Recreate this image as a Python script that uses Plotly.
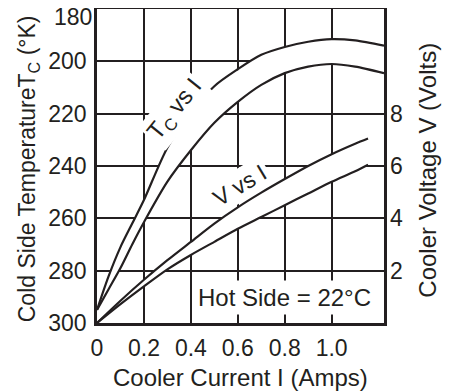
import plotly.graph_objects as go

# ---- data ----
current_tc = [0, 0.05, 0.1, 0.15, 0.2, 0.3, 0.4, 0.5, 0.6, 0.7, 0.8, 0.9, 1.0, 1.1, 1.223]
tc_upper = [295, 282, 271, 262, 253, 233, 220, 209.5, 203, 197.5, 194.5, 192.5, 191.5, 192, 194]
tc_lower = [295, 287, 279, 270, 261.5, 246, 234, 223.5, 215.5, 209, 204.5, 202, 201, 202, 204.5]

current_v = [0, 0.1, 0.2, 0.3, 0.4, 0.5, 0.6, 0.7, 0.8, 0.9, 1.0, 1.1, 1.155]
v_upper = [0, 0.85, 1.65, 2.4, 3.1, 3.8, 4.42, 4.98, 5.5, 6.0, 6.45, 6.85, 7.05]
v_lower = [0, 0.72, 1.4, 2.05, 2.6, 3.1, 3.6, 4.05, 4.5, 4.95, 5.4, 5.8, 6.05]

x_tickvals = [0, 0.2, 0.4, 0.6, 0.8, 1.0]
x_ticktext = ["0", "0.2", "0.4", "0.6", "0.8", "1.0"]
t_tickvals = [180, 200, 220, 240, 260, 280, 300]
v_tickvals = [2, 4, 6, 8]

INK = "#231f20"
FONT = "Liberation Sans, Arial, sans-serif"

fig = go.Figure()

line = dict(color=INK, width=2.2, shape="spline", smoothing=0.8)

fig.add_trace(go.Scatter(x=current_tc, y=tc_upper, mode="lines", line=line,
                         yaxis="y", showlegend=False, hoverinfo="skip"))
fig.add_trace(go.Scatter(x=current_tc, y=tc_lower, mode="lines", line=line,
                         fill="tonexty", fillcolor="white",
                         yaxis="y", showlegend=False, hoverinfo="skip"))
fig.add_trace(go.Scatter(x=current_v, y=v_upper, mode="lines", line=line,
                         yaxis="y2", showlegend=False, hoverinfo="skip"))
fig.add_trace(go.Scatter(x=current_v, y=v_lower, mode="lines", line=line,
                         fill="tonexty", fillcolor="white",
                         yaxis="y2", showlegend=False, hoverinfo="skip"))

# The page body keeps its default 8px margin, so the figure is 8px smaller
# and its left/top margins are reduced by 8px to land on the reference.
fig.update_layout(
    width=443, height=383,
    margin=dict(l=89, r=67, t=1, b=68, pad=0, autoexpand=False),
    paper_bgcolor="white", plot_bgcolor="white",
    font=dict(family=FONT, size=23, color=INK),
    xaxis=dict(
        range=[0, 1.223], tickvals=x_tickvals, ticktext=x_ticktext,
        showgrid=True, gridcolor=INK, gridwidth=2,
        showline=True, linecolor=INK, linewidth=2.5, mirror=True,
        zeroline=False, ticks="", ticklabelstandoff=3, automargin=False,
    ),
    yaxis=dict(
        range=[300.02, 179.98], tickvals=t_tickvals[1:],
        showgrid=True, gridcolor=INK, gridwidth=2,
        showline=True, linecolor=INK, linewidth=2.5, mirror=True,
        zeroline=False, ticks="", ticklabelstandoff=3, automargin=False,
    ),
    yaxis2=dict(
        range=[-0.002, 12.002], tickvals=v_tickvals, overlaying="y", side="right",
        showgrid=False, showline=False, zeroline=False, ticks="",
        ticklabelstandoff=5, automargin=False,
    ),
    annotations=[
        # top tick label of the temperature axis (the axis would hide it at the edge)
        dict(x=0, y=t_tickvals[0], xref="paper", yref="y", text=str(t_tickvals[0]),
             showarrow=False, xanchor="right", yanchor="middle", xshift=-3,
             yshift=-8, font=dict(size=23, color=INK)),
        # axis titles
        dict(x=0.5, y=-0.172, xref="paper", yref="paper",
             text="Cooler Current I (Amps)", showarrow=False,
             xanchor="center", yanchor="middle", font=dict(size=24, color=INK)),
        dict(x=-0.240, y=0.490, xref="paper", yref="paper",
             text="Cold Side TemperatureT<sub>C</sub> (°K)", showarrow=False,
             textangle=-90, xanchor="center", yanchor="middle",
             font=dict(size=23, color=INK)),
        dict(x=1.153, y=0.488, xref="paper", yref="paper",
             text="Cooler Voltage V (Volts)", showarrow=False,
             textangle=-90, xanchor="center", yanchor="middle",
             font=dict(size=24, color=INK)),
        # in-plot labels
        dict(x=0.335, y=218.4, xref="x", yref="y", text="T<sub>C</sub> vs I",
             showarrow=False, textangle=-51, bgcolor="white", borderpad=2,
             font=dict(size=24, color=INK)),
        dict(x=0.61, y=247.3, xref="x", yref="y", text="V vs I",
             showarrow=False, textangle=-31, bgcolor="white", borderpad=2,
             font=dict(size=23, color=INK)),
        dict(x=0.80, y=290.2, xref="x", yref="y", text="Hot Side = 22°C",
             showarrow=False, bgcolor="white", borderpad=3,
             font=dict(size=24, color=INK)),
    ],
)

fig.write_html("out.html")
